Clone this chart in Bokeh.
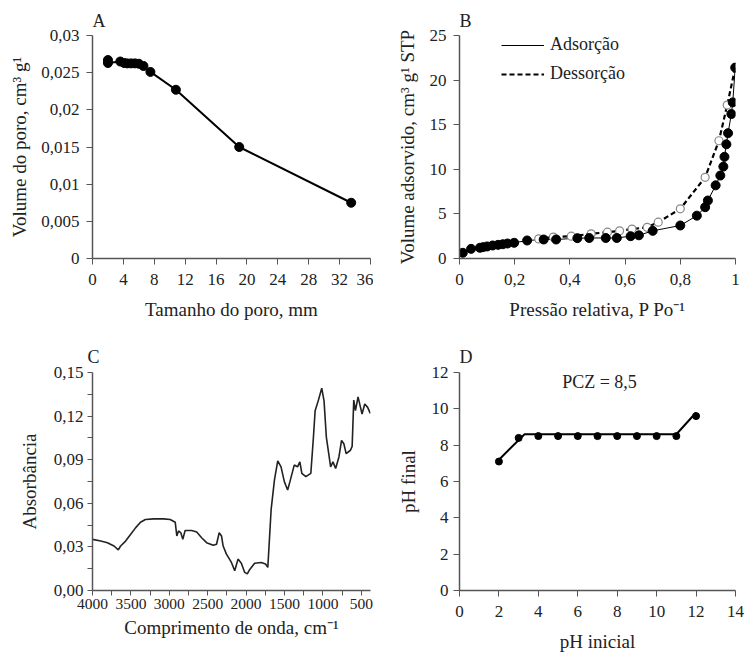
from bokeh.plotting import figure
from bokeh.layouts import gridplot
from bokeh.models import (Range1d, FixedTicker, CustomJSTickFormatter, Legend, LegendItem, Label)
from bokeh.embed import file_html
from bokeh.resources import INLINE

# ---------------- data ----------------
# Panel A: pore volume vs pore size
pore_size = [2.0, 2.0, 3.6, 4.1, 4.5, 5.0, 5.5, 6.0, 6.6, 7.5, 10.8, 19.0, 33.5]
pore_vol = [0.0267, 0.0263, 0.0265, 0.0263, 0.02625, 0.02625, 0.02625, 0.0262, 0.0259, 0.0251, 0.0227, 0.0150, 0.0075]

# Panel B: N2 isotherm
ads_p = [0.012, 0.042, 0.074, 0.085, 0.10, 0.12, 0.14, 0.157, 0.174, 0.198, 0.245, 0.305, 0.35,
         0.427, 0.47, 0.53, 0.57, 0.62, 0.65, 0.70, 0.80, 0.86, 0.89, 0.90, 0.928, 0.945,
         0.956, 0.96, 0.967, 0.973, 0.985, 0.99, 0.999]
ads_v = [0.64, 1.08, 1.2, 1.27, 1.35, 1.46, 1.53, 1.6, 1.68, 1.76, 2.02, 2.13, 2.13,
         2.28, 2.3, 2.3, 2.3, 2.5, 2.6, 3.1, 3.7, 4.8, 5.75, 6.5, 8.2, 9.3,
         10.3, 11.4, 12.8, 14.05, 16.2, 17.5, 21.4]
des_p = [0.287, 0.34, 0.405, 0.477, 0.536, 0.58, 0.625, 0.68, 0.72, 0.80, 0.89, 0.94, 0.97, 0.999]
des_v = [2.2, 2.4, 2.5, 2.77, 2.95, 3.1, 3.3, 3.5, 4.07, 5.57, 9.1, 13.2, 17.2, 21.4]

# Panel C: FTIR spectrum
wavenumber = [4000, 3892, 3806, 3720, 3664, 3634, 3569, 3505, 3440, 3375, 3311, 3203, 3074, 2988,
              2923, 2902, 2880, 2850, 2824, 2794, 2708, 2643, 2579, 2514, 2428, 2385, 2350, 2320,
              2299, 2256, 2191, 2148, 2105, 2062, 2019, 1984, 1954, 1889, 1803, 1747, 1717, 1674,
              1631, 1588, 1545, 1502, 1459, 1429, 1373, 1330, 1300, 1274, 1222, 1157, 1123, 1101,
              1058, 1015, 985, 955, 899, 869, 834, 791, 757, 727, 697, 641, 619, 598, 576, 542,
              490, 455, 417, 383]
absorbance = [0.0352, 0.0340, 0.0329, 0.0306, 0.0279, 0.0306, 0.0340, 0.0386, 0.0431, 0.0470, 0.0488,
              0.0493, 0.0493, 0.0488, 0.0470, 0.0375, 0.0410, 0.0397, 0.0352, 0.0413, 0.0413, 0.0402,
              0.0363, 0.0329, 0.0311, 0.0318, 0.0397, 0.0375, 0.0306, 0.0250, 0.0193, 0.0136, 0.0216,
              0.0188, 0.0125, 0.0114, 0.0143, 0.0188, 0.0193, 0.0182, 0.0159, 0.0556, 0.0760, 0.0892,
              0.0851, 0.0749, 0.0692, 0.0749, 0.0863, 0.0851, 0.0885, 0.0806, 0.0783, 0.0806, 0.1056,
              0.1237, 0.1310, 0.1392, 0.1305, 0.1056, 0.0851, 0.0885, 0.0840, 0.0919, 0.1033, 0.1010,
              0.0942, 0.0965, 0.0992, 0.1310, 0.1237, 0.1332, 0.1214, 0.1283, 0.1260, 0.1219]

# Panel D: point of zero charge
ph_initial = [2, 3, 4, 5, 6, 7, 8, 9, 10, 11, 12]
ph_final = [7.1, 8.4, 8.5, 8.5, 8.5, 8.5, 8.5, 8.5, 8.5, 8.5, 9.6]
trend_x = [2, 3.3, 11, 12]
trend_y = [7.2, 8.6, 8.6, 9.8]

FONT = "Liberation Serif"
AXIS_COLOR = "#555555"


def comma_fmt(decimals=None):
    if decimals is None:
        code = "var v = Math.round(tick*100000)/100000; return String(v).replace('.', ',');"
    else:
        code = "return tick.toFixed(%d).replace('.', ',');" % decimals
    return CustomJSTickFormatter(code=code)


def make(width, height, left, right, top, bottom, xr, yr, title):
    p = figure(width=width, height=height, x_range=xr, y_range=yr,
               output_backend="svg", toolbar_location=None,
               min_border_left=left, min_border_right=right,
               min_border_top=top, min_border_bottom=bottom,
               title=title)
    p.xgrid.visible = False
    p.ygrid.visible = False
    p.outline_line_color = None
    p.background_fill_color = "white"
    p.border_fill_color = "white"
    p.title.text_font = FONT
    p.title.text_font_size = "18px"
    p.title.text_font_style = "normal"
    p.title.text_color = "#222222"
    p.title.align = "left"
    for ax in (p.xaxis[0], p.yaxis[0]):
        ax.axis_line_color = AXIS_COLOR
        ax.axis_line_width = 1.5
        ax.major_tick_line_color = AXIS_COLOR
        ax.minor_tick_line_color = AXIS_COLOR
        ax.major_tick_in = 0
        ax.major_tick_out = 6
        ax.minor_tick_in = 0
        ax.minor_tick_out = 0
        ax.major_label_text_font = FONT
        ax.major_label_text_font_size = "17px"
        ax.major_label_text_color = "#222222"
        ax.axis_label_text_font = FONT
        ax.axis_label_text_font_size = "19px"
        ax.axis_label_text_font_style = "normal"
        ax.axis_label_text_color = "#222222"
    return p


# ---------------- Panel A ----------------
pA = make(373, 330, 92, 3, 35, 72, Range1d(0, 36), Range1d(0, 0.03), "A")
pA.xaxis.ticker = FixedTicker(ticks=[0, 4, 8, 12, 16, 20, 24, 28, 32, 36])
pA.yaxis.ticker = FixedTicker(ticks=[0, 0.005, 0.01, 0.015, 0.02, 0.025, 0.03])
pA.yaxis.formatter = comma_fmt()
pA.xaxis.axis_label = "Tamanho do poro, mm"
pA.yaxis.axis_label = "Volume do poro, cm³ g¹"
pA.xaxis.major_label_standoff = 9
pA.xaxis.axis_label_standoff = 11
pA.yaxis.major_label_standoff = 7
pA.yaxis.axis_label_standoff = 8
pA.line(pore_size, pore_vol, line_color="black", line_width=2)
pA.scatter(pore_size, pore_vol, size=9, fill_color="black", line_color="black")

# ---------------- Panel B ----------------
pB = make(374, 330, 86, 7, 35, 72, Range1d(0, 1), Range1d(0, 25), "B")
pB.xaxis.ticker = FixedTicker(ticks=[0, 0.2, 0.4, 0.6, 0.8, 1.0])
pB.xaxis.formatter = comma_fmt()
pB.yaxis.ticker = FixedTicker(ticks=[0, 5, 10, 15, 20, 25])
pB.xaxis.axis_label = "Pressão relativa, P Po⁻¹"
pB.yaxis.axis_label = "Volume adsorvido, cm³ g¹ STP"
pB.xaxis.major_label_standoff = 9
pB.xaxis.axis_label_standoff = 11
pB.yaxis.major_label_standoff = 7
pB.yaxis.axis_label_standoff = 9
l_des = pB.line(des_p, des_v, line_color="black", line_width=2.2, line_dash="5 3")
l_ads = pB.line(ads_p, ads_v, line_color="black", line_width=1)
pB.scatter(des_p, des_v, size=8, fill_color="white", line_color="#888888", line_width=1.2)
pB.scatter(ads_p, ads_v, size=9, fill_color="black", line_color="black")
legB = Legend(items=[LegendItem(label="Adsorção", renderers=[l_ads]),
                     LegendItem(label="Dessorção", renderers=[l_des])],
              location=(42, 174), padding=0, margin=0, spacing=8,
              glyph_width=43, glyph_height=20, label_height=20, label_standoff=6,
              border_line_color=None, background_fill_alpha=0,
              label_text_font=FONT, label_text_font_size="18px", label_text_color="#222222")
pB.add_layout(legB)

# ---------------- Panel C ----------------
pC = make(373, 324, 90, 3, 42, 62, Range1d(4000, 380), Range1d(0, 0.15), "C")
pC.xaxis.ticker = FixedTicker(ticks=[4000, 3500, 3000, 2500, 2000, 1500, 1000, 500],
                              minor_ticks=[3750, 3250, 2750, 2250, 1750, 1250, 750])
pC.yaxis.ticker = FixedTicker(ticks=[0, 0.03, 0.06, 0.09, 0.12, 0.15],
                              minor_ticks=[0.015, 0.045, 0.075, 0.105, 0.135])
pC.yaxis.formatter = comma_fmt(2)
for ax in (pC.xaxis[0], pC.yaxis[0]):
    ax.minor_tick_out = 5
    ax.major_tick_out = 5
pC.xaxis.major_label_standoff = 3
pC.xaxis.axis_label_standoff = 5
pC.yaxis.major_label_standoff = 4
pC.yaxis.axis_label_standoff = 11
pC.xaxis.major_label_text_font_size = "15.5px"
pC.xaxis.axis_label = "Comprimento de onda, cm⁻¹"
pC.yaxis.axis_label = "Absorbância"
pC.title.offset = -5
pC.title.standoff = 11
pC.line(wavenumber, absorbance, line_color="#222222", line_width=1.6)

# ---------------- Panel D ----------------
pD = make(374, 324, 86, 12, 42, 64, Range1d(0, 14), Range1d(0, 12), "D")
pD.xaxis.ticker = FixedTicker(ticks=[0, 2, 4, 6, 8, 10, 12, 14])
pD.yaxis.ticker = FixedTicker(ticks=[0, 2, 4, 6, 8, 10, 12])
pD.xaxis.axis_label = "pH inicial"
pD.yaxis.axis_label = "pH final"
pD.xaxis.major_label_standoff = 9
pD.xaxis.axis_label_standoff = 11
pD.yaxis.major_label_standoff = 5
pD.yaxis.axis_label_standoff = 10
pD.title.standoff = 11
pD.line(trend_x, trend_y, line_color="black", line_width=2)
pD.scatter(ph_initial, ph_final, size=7, fill_color="black", line_color="black")
pD.add_layout(Label(x=7.1, y=11.45, text="PCZ = 8,5", text_align="center", text_baseline="middle",
                    text_font=FONT, text_font_size="18px", text_color="#222222"))

grid = gridplot([[pA, pB], [pC, pD]], toolbar_location=None)

with open("out.html", "w") as f:
    f.write(file_html(grid, INLINE))
